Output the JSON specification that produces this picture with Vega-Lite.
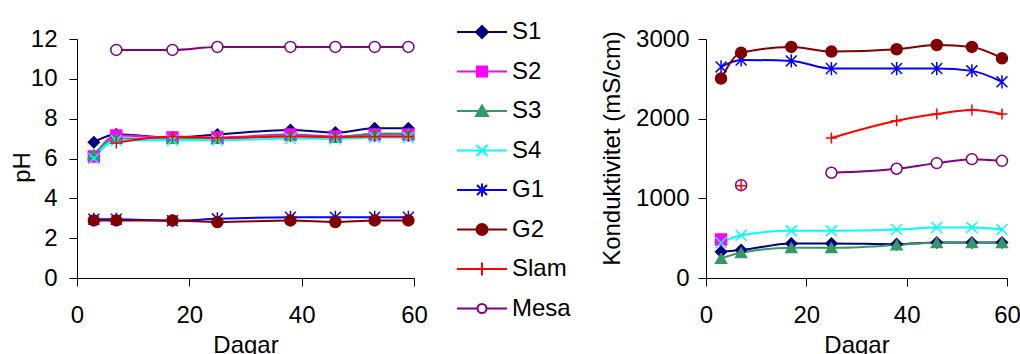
{
  "$schema": "https://vega.github.io/schema/vega-lite/v6.json",
  "padding": {"left": 10, "top": 20, "right": 0, "bottom": 0},
  "background": "white",
  "bounds": "flush",
  "spacing": 292,
  "datasets": {
    "ph": [
      {"series": "S1", "dag": 3, "v": 6.82}, {"series": "S1", "dag": 7, "v": 7.22}, {"series": "S1", "dag": 17, "v": 7.05}, {"series": "S1", "dag": 25, "v": 7.2}, {"series": "S1", "dag": 38, "v": 7.43}, {"series": "S1", "dag": 46, "v": 7.3}, {"series": "S1", "dag": 53, "v": 7.52}, {"series": "S1", "dag": 59, "v": 7.52},
      {"series": "S2", "dag": 3, "v": 6.1}, {"series": "S2", "dag": 7, "v": 7.15}, {"series": "S2", "dag": 17, "v": 7.05}, {"series": "S2", "dag": 25, "v": 7.05}, {"series": "S2", "dag": 38, "v": 7.2}, {"series": "S2", "dag": 46, "v": 7.1}, {"series": "S2", "dag": 53, "v": 7.2}, {"series": "S2", "dag": 59, "v": 7.2},
      {"series": "S3", "dag": 3, "v": 6.2}, {"series": "S3", "dag": 7, "v": 7.0}, {"series": "S3", "dag": 17, "v": 7.0}, {"series": "S3", "dag": 25, "v": 7.0}, {"series": "S3", "dag": 38, "v": 7.15}, {"series": "S3", "dag": 46, "v": 7.05}, {"series": "S3", "dag": 53, "v": 7.25}, {"series": "S3", "dag": 59, "v": 7.25},
      {"series": "S4", "dag": 3, "v": 6.0}, {"series": "S4", "dag": 7, "v": 6.9}, {"series": "S4", "dag": 17, "v": 6.92}, {"series": "S4", "dag": 25, "v": 6.92}, {"series": "S4", "dag": 38, "v": 7.0}, {"series": "S4", "dag": 46, "v": 6.98}, {"series": "S4", "dag": 53, "v": 7.05}, {"series": "S4", "dag": 59, "v": 7.05},
      {"series": "G1", "dag": 3, "v": 2.95}, {"series": "G1", "dag": 7, "v": 2.95}, {"series": "G1", "dag": 17, "v": 2.88}, {"series": "G1", "dag": 25, "v": 2.97}, {"series": "G1", "dag": 38, "v": 3.05}, {"series": "G1", "dag": 46, "v": 3.05}, {"series": "G1", "dag": 53, "v": 3.05}, {"series": "G1", "dag": 59, "v": 3.05},
      {"series": "G2", "dag": 3, "v": 2.89}, {"series": "G2", "dag": 7, "v": 2.89}, {"series": "G2", "dag": 17, "v": 2.89}, {"series": "G2", "dag": 25, "v": 2.81}, {"series": "G2", "dag": 38, "v": 2.89}, {"series": "G2", "dag": 46, "v": 2.81}, {"series": "G2", "dag": 53, "v": 2.89}, {"series": "G2", "dag": 59, "v": 2.89},
      {"series": "Slam", "dag": 7, "v": 6.78}, {"series": "Slam", "dag": 17, "v": 7.1}, {"series": "Slam", "dag": 25, "v": 7.04}, {"series": "Slam", "dag": 38, "v": 7.1}, {"series": "Slam", "dag": 46, "v": 7.08}, {"series": "Slam", "dag": 53, "v": 7.1}, {"series": "Slam", "dag": 59, "v": 7.1},
      {"series": "Mesa", "dag": 7, "v": 11.45}, {"series": "Mesa", "dag": 17, "v": 11.45}, {"series": "Mesa", "dag": 25, "v": 11.6}, {"series": "Mesa", "dag": 38, "v": 11.6}, {"series": "Mesa", "dag": 46, "v": 11.6}, {"series": "Mesa", "dag": 53, "v": 11.6}, {"series": "Mesa", "dag": 59, "v": 11.6}
    ],
    "kond": [
      {"series": "Mesa", "dag": 7, "v": 1165}, {"series": "Mesa", "dag": 17, "v": null}, {"series": "Mesa", "dag": 25, "v": 1321}, {"series": "Mesa", "dag": 38, "v": 1371}, {"series": "Mesa", "dag": 46, "v": 1442}, {"series": "Mesa", "dag": 53, "v": 1492}, {"series": "Mesa", "dag": 59, "v": 1471},
      {"series": "S1", "dag": 3, "v": 329}, {"series": "S1", "dag": 7, "v": 350}, {"series": "S1", "dag": 17, "v": 433}, {"series": "S1", "dag": 25, "v": 433}, {"series": "S1", "dag": 38, "v": 425}, {"series": "S1", "dag": 46, "v": 446}, {"series": "S1", "dag": 53, "v": 446}, {"series": "S1", "dag": 59, "v": 446},
      {"series": "S2", "dag": 3, "v": 483},
      {"series": "S3", "dag": 3, "v": 246}, {"series": "S3", "dag": 7, "v": 317}, {"series": "S3", "dag": 17, "v": 379}, {"series": "S3", "dag": 25, "v": 379}, {"series": "S3", "dag": 38, "v": 413}, {"series": "S3", "dag": 46, "v": 442}, {"series": "S3", "dag": 53, "v": 442}, {"series": "S3", "dag": 59, "v": 442},
      {"series": "S4", "dag": 3, "v": 442}, {"series": "S4", "dag": 7, "v": 537}, {"series": "S4", "dag": 17, "v": 592}, {"series": "S4", "dag": 25, "v": 592}, {"series": "S4", "dag": 38, "v": 608}, {"series": "S4", "dag": 46, "v": 633}, {"series": "S4", "dag": 53, "v": 633}, {"series": "S4", "dag": 59, "v": 608},
      {"series": "G1", "dag": 3, "v": 2650}, {"series": "G1", "dag": 7, "v": 2737}, {"series": "G1", "dag": 17, "v": 2725}, {"series": "G1", "dag": 25, "v": 2629}, {"series": "G1", "dag": 38, "v": 2629}, {"series": "G1", "dag": 46, "v": 2629}, {"series": "G1", "dag": 53, "v": 2600}, {"series": "G1", "dag": 59, "v": 2462},
      {"series": "G2", "dag": 3, "v": 2504}, {"series": "G2", "dag": 7, "v": 2829}, {"series": "G2", "dag": 17, "v": 2900}, {"series": "G2", "dag": 25, "v": 2842}, {"series": "G2", "dag": 38, "v": 2871}, {"series": "G2", "dag": 46, "v": 2925}, {"series": "G2", "dag": 53, "v": 2900}, {"series": "G2", "dag": 59, "v": 2758},
      {"series": "Slam", "dag": 7, "v": 1158}, {"series": "Slam", "dag": 17, "v": null}, {"series": "Slam", "dag": 25, "v": 1758}, {"series": "Slam", "dag": 38, "v": 1975}, {"series": "Slam", "dag": 46, "v": 2058}, {"series": "Slam", "dag": 53, "v": 2108}, {"series": "Slam", "dag": 59, "v": 2058}
    ]
  },
  "config": {
    "font": "Liberation Sans",
    "view": {"stroke": null},
    "axis": {"grid": false, "domainColor": "#000", "tickColor": "#000", "domainWidth": 1, "tickWidth": 1, "tickSize": 8, "labelFontSize": 24, "labelColor": "#000", "titleFontSize": 24, "titleFontWeight": "normal", "titleColor": "#000", "labelFont": "Liberation Sans", "titleFont": "Liberation Sans", "labelFlush": false, "labelOverlap": false},
    "axisX": {"labelPadding": 17, "titlePadding": 6}
  },
  "hconcat": [
    {
      "width": 337, "height": 239,
      "data": {"name": "ph"},
      "encoding": {
        "x": {"field": "dag", "type": "quantitative", "scale": {"domain": [0, 60], "nice": false}, "axis": {"values": [0, 20, 40, 60], "title": "Dagar"}},
        "y": {"field": "v", "type": "quantitative", "scale": {"domain": [0, 12], "nice": false}, "axis": {"values": [0, 2, 4, 6, 8, 10, 12], "title": "pH", "labelPadding": 12, "titlePadding": -4, "titleY": 128}}
      },
      "layer": [
        {
          "mark": {"type": "line", "interpolate": "monotone", "strokeWidth": 2},
          "encoding": {"stroke": {"field": "series", "type": "nominal", "scale": {"domain": ["S1","S2","S3","S4","G1","G2","Slam","Mesa"], "range": ["#000080","#FF00FF","#339966","#00FFFF","#0000FF","#800000","#FF0000","#800080"]}, "legend": null}}
        },
        {
          "mark": {"type": "point", "filled": true, "opacity": 1, "size": 120, "strokeWidth": 1.5},
          "encoding": {
            "shape": {"field": "series", "type": "nominal", "scale": {"domain": ["S1","S2","S3","S4","G1","G2","Slam","Mesa"], "range": ["diamond","square","triangle-up","M-1,-1L1,1M-1,1L1,-1","M-1,-1L1,1M-1,1L1,-1M0,-1.2L0,1.2","circle","M-1,0L1,0M0,-1L0,1","circle"]}, "legend": null},
            "stroke": {"field": "series", "type": "nominal", "scale": {"domain": ["S1","S2","S3","S4","G1","G2","Slam","Mesa"], "range": ["#000080","#FF00FF","#339966","#00FFFF","#0000FF","#800000","#FF0000","#800080"]}, "legend": null},
            "fill": {"field": "series", "type": "nominal", "scale": {"domain": ["S1","S2","S3","S4","G1","G2","Slam","Mesa"], "range": ["#000080","#FF00FF","#339966","#00FFFF","#0000FF","#800000","#FF0000","#FFFFFF"]}, "legend": null}
          }
        },
        {
          "transform": [{"filter": "false"}],
          "mark": {"type": "point", "filled": true, "opacity": 1},
          "encoding": {
            "shape": {"field": "series", "type": "nominal", "scale": {"domain": ["S1","S2","S3","S4","G1","G2","Slam","Mesa"], "range": ["M-2.5,0H2.5M0,-0.6L0.6,0L0,0.6L-0.6,0Z","M-2.5,0H2.5M-0.5,-0.5H0.5V0.5H-0.5Z","M-2.5,0H2.5M0,-0.55L0.6,0.5H-0.6Z","M-2.5,0H2.5M-0.55,-0.55L0.55,0.55M-0.55,0.55L0.55,-0.55","M-2.5,0H2.5M-0.5,-0.5L0.5,0.5M-0.5,0.5L0.5,-0.5M0,-0.65V0.65","M-2.5,0H2.5M-0.55,0A0.55,0.55,0,1,0,0.55,0A0.55,0.55,0,1,0,-0.55,0Z","M-2.5,0H2.5M0,-0.65V0.65","M-2.5,0H-0.45M0.45,0H2.5M-0.45,0A0.45,0.45,0,1,0,0.45,0A0.45,0.45,0,1,0,-0.45,0Z"]},
              "legend": {"orient": "none", "legendX": 393, "legendY": -19, "title": null, "padding": 0, "symbolSize": 400, "symbolStrokeWidth": 2, "labelFontSize": 24, "labelFont": "Liberation Sans", "labelColor": "#000", "labelOffset": 18, "rowPadding": 15.5, "labelLimit": 0}},
            "stroke": {"field": "series", "type": "nominal", "scale": {"domain": ["S1","S2","S3","S4","G1","G2","Slam","Mesa"], "range": ["#000080","#FF00FF","#339966","#00FFFF","#0000FF","#800000","#FF0000","#800080"]},
              "legend": {"orient": "none", "legendX": 393, "legendY": -19, "title": null, "padding": 0, "symbolSize": 400, "symbolStrokeWidth": 2, "labelFontSize": 24, "labelFont": "Liberation Sans", "labelColor": "#000", "labelOffset": 18, "rowPadding": 15.5, "labelLimit": 0}},
            "fill": {"field": "series", "type": "nominal", "scale": {"domain": ["S1","S2","S3","S4","G1","G2","Slam","Mesa"], "range": ["#000080","#FF00FF","#339966","#00FFFF","#0000FF","#800000","#FF0000","#FFFFFF"]},
              "legend": {"orient": "none", "legendX": 393, "legendY": -19, "title": null, "padding": 0, "symbolSize": 400, "symbolStrokeWidth": 2, "labelFontSize": 24, "labelFont": "Liberation Sans", "labelColor": "#000", "labelOffset": 18, "rowPadding": 15.5, "labelLimit": 0}}
          }
        }
      ],
      "resolve": {"scale": {"shape": "independent", "stroke": "independent", "fill": "independent"}}
    },
    {
      "width": 301, "height": 239,
      "data": {"name": "kond"},
      "encoding": {
        "x": {"field": "dag", "type": "quantitative", "scale": {"domain": [0, 60], "nice": false}, "axis": {"values": [0, 20, 40, 60], "title": "Dagar"}},
        "y": {"field": "v", "type": "quantitative", "scale": {"domain": [0, 3000], "nice": false}, "axis": {"values": [0, 1000, 2000, 3000], "format": "d", "title": "Konduktivitet (mS/cm)", "labelPadding": 9, "titlePadding": 11, "titleY": 109}}
      },
      "layer": [
        {
          "mark": {"type": "line", "interpolate": "monotone", "strokeWidth": 2},
          "encoding": {"stroke": {"field": "series", "type": "nominal", "scale": {"domain": ["S1","S2","S3","S4","G1","G2","Slam","Mesa"], "range": ["#000080","#FF00FF","#339966","#00FFFF","#0000FF","#800000","#FF0000","#800080"]}, "legend": null}}
        },
        {
          "mark": {"type": "point", "filled": true, "opacity": 1, "size": 120, "strokeWidth": 1.5},
          "encoding": {
            "shape": {"field": "series", "type": "nominal", "scale": {"domain": ["S1","S2","S3","S4","G1","G2","Slam","Mesa"], "range": ["diamond","square","triangle-up","M-1,-1L1,1M-1,1L1,-1","M-1,-1L1,1M-1,1L1,-1M0,-1.2L0,1.2","circle","M-1,0L1,0M0,-1L0,1","circle"]}, "legend": null},
            "stroke": {"field": "series", "type": "nominal", "legend": null},
            "fill": {"field": "series", "type": "nominal", "scale": {"domain": ["S1","S2","S3","S4","G1","G2","Slam","Mesa"], "range": ["#000080","#FF00FF","#339966","#00FFFF","#0000FF","#800000","#FF0000","#FFFFFF"]}, "legend": null}
          }
        }
      ]
    }
  ]
}
